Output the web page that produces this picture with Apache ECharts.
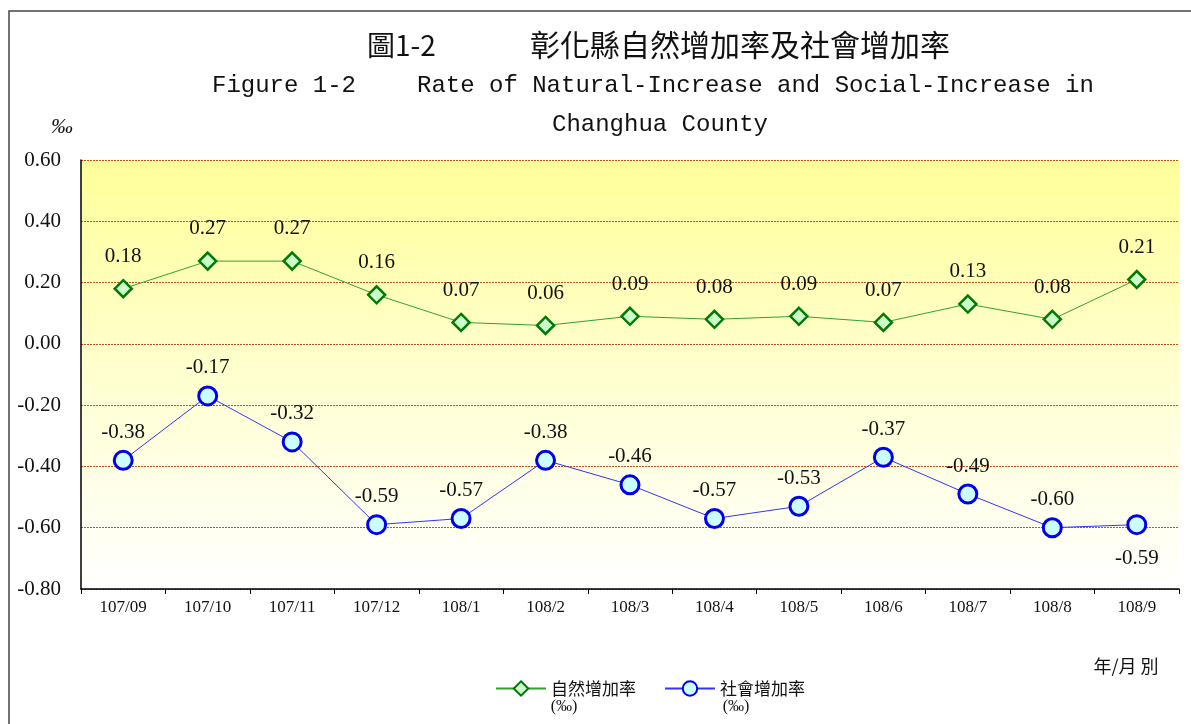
<!DOCTYPE html>
<html>
<head>
<meta charset="utf-8">
<script src="https://cdn.jsdelivr.net/npm/echarts@6/dist/echarts.min.js"></script>
<style>html,body{margin:0;padding:0;background:#fff;}#c{width:1191px;height:724px;}</style>
</head>
<body>
<div id="c"></div>
<script>
var categories = ['107/09','107/10','107/11','107/12','108/1','108/2','108/3','108/4','108/5','108/6','108/7','108/8','108/9'];
var naturalIncrease = [0.18,0.27,0.27,0.16,0.07,0.06,0.09,0.08,0.09,0.07,0.13,0.08,0.21];
var socialIncrease = [-0.38,-0.17,-0.32,-0.59,-0.57,-0.38,-0.46,-0.57,-0.53,-0.37,-0.49,-0.60,-0.59];
var seriesNames = ['自然增加率','社會增加率'];
var yTicks = {min:-0.8, max:0.6, interval:0.2};

var serif = '"Liberation Serif","Times New Roman",serif';
var cjk = '"Noto Sans CJK TC","Noto Sans CJK SC",sans-serif';
var mono = '"Liberation Mono","DejaVu Sans Mono",monospace';

var chart = echarts.init(document.getElementById('c'));

var socialData = socialIncrease.map(function(v,i){
  if (i === socialIncrease.length-1) {
    return {value:v, label:{position:'bottom', distance:13}};
  }
  return v;
});

chart.setOption({
  animation:false,
  backgroundColor:'#ffffff',
  grid:{left:81, top:160, right:12, bottom:135, show:true, borderWidth:0,
    backgroundColor: new echarts.graphic.LinearGradient(0,0,0,1,[
      {offset:0,color:'#ffff99'},
      {offset:0.5,color:'#ffffd0'},
      {offset:1,color:'#ffffff'}
    ])},
  legend:{
    left:490, top:675, itemWidth:50, itemHeight:18, itemGap:28,
    textStyle:{fontFamily:cjk, fontSize:17, color:'#111'},
    data:seriesNames
  },
  xAxis:{
    type:'category', data:categories, boundaryGap:true,
    axisLine:{onZero:false, lineStyle:{color:'#000', width:1.5}},
    axisTick:{show:true, alignWithLabel:false, length:5, lineStyle:{color:'#000'}},
    axisLabel:{fontFamily:serif, fontSize:17, color:'#111', margin:10}
  },
  yAxis:{
    type:'value', min:yTicks.min, max:yTicks.max, interval:yTicks.interval,
    name:'‰', nameLocation:'end', nameGap:22,
    nameTextStyle:{fontFamily:serif, fontSize:22, fontStyle:'italic', color:'#111', align:'right', padding:[0,8,0,0]},
    axisLine:{show:true, lineStyle:{color:'#000', width:1.5}},
    axisTick:{show:false},
    axisLabel:{fontFamily:serif, fontSize:21, color:'#111', margin:20,
      formatter:function(v){return v.toFixed(2);}},
    splitLine:{show:true, lineStyle:{color:'#c8501e', type:[2,1], width:1}}
  },
  series:[
    {
      name:seriesNames[0], type:'line', data:naturalIncrease,
      symbol:'diamond', symbolSize:17,
      lineStyle:{color:'#33a033', width:1},
      itemStyle:{color:'#ccffcc', borderColor:'#007a00', borderWidth:2.5},
      label:{show:true, position:'top', distance:12, fontFamily:serif, fontSize:21, color:'#111',
        formatter:function(p){return p.value.toFixed(2);}},
      z:3
    },
    {
      name:seriesNames[1], type:'line', data:socialData,
      symbol:'circle', symbolSize:18,
      lineStyle:{color:'#3333ff', width:1},
      itemStyle:{color:'#ccffff', borderColor:'#0000ee', borderWidth:3},
      label:{show:true, position:'top', distance:7, fontFamily:serif, fontSize:21, color:'#111',
        formatter:function(p){var v = (typeof p.value==='object')?p.value.value:p.value; return v.toFixed(2);}},
      z:3
    }
  ],
  graphic:[
    {type:'rect', silent:true, shape:{x:9, y:11, width:1300, height:900},
      style:{fill:null, stroke:'#444', lineWidth:1.5}},
    {type:'text', x:367, y:45, style:{text:'圖1-2', font:'28px '+cjk, fill:'#111', verticalAlign:'middle', align:'left'}},
    {type:'text', x:740, y:45, style:{text:'彰化縣自然增加率及社會增加率', font:'30px '+cjk, fill:'#111', verticalAlign:'middle', align:'center'}},
    {type:'text', x:212, y:86, style:{text:'Figure 1-2', font:'24px '+mono, fill:'#111', verticalAlign:'middle', align:'left'}},
    {type:'text', x:417, y:86, style:{text:'Rate of Natural-Increase and Social-Increase in', font:'24px '+mono, fill:'#111', verticalAlign:'middle', align:'left'}},
    {type:'text', x:660, y:125, style:{text:'Changhua County', font:'24px '+mono, fill:'#111', verticalAlign:'middle', align:'center'}},
    {type:'text', x:1126, y:666, style:{text:'年/月 別', font:'18px '+cjk, fill:'#111', verticalAlign:'middle', align:'center'}},
    {type:'text', x:564, y:707, style:{text:'(‰)', font:'16px '+serif, fill:'#111', verticalAlign:'middle', align:'center'}},
    {type:'text', x:736, y:707, style:{text:'(‰)', font:'16px '+serif, fill:'#111', verticalAlign:'middle', align:'center'}}
  ]
});
</script>
</body>
</html>
